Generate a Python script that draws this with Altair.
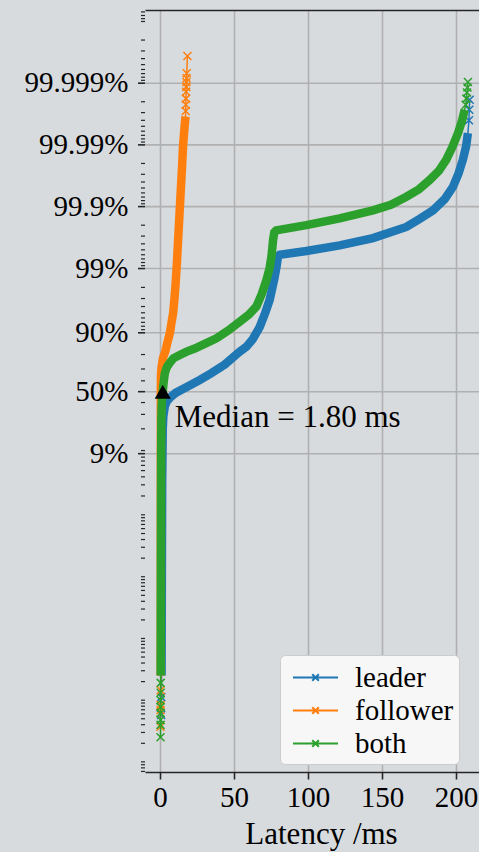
import math
import altair as alt
import pandas as pd

# ---------------- data ----------------
series_names = ["leader", "follower", "both"]
series_colors = ["#1f77b4", "#ff7f0e", "#2ca02c"]

# latency (ms) and log10-odds of the quantile, dense part of each curve
leader_body_ms = [1.0, 1.2, 1.4, 1.8, 2.2, 3.2, 4.5, 7.0, 10.5, 16.7, 26.8, 34.7, 43.7, 53.9,
                  58.4, 62.6, 67.4, 71.1, 74.1, 77.5, 78.9, 79.7, 80.9, 98.9, 121.4, 143.9,
                  166.5, 175.5, 184.5, 192.4, 198.0, 201.8, 204.7, 206.9, 208.1]
leader_body_lo = [-4.6, -3.0, -1.5, -0.6, -0.4, -0.24, -0.16, -0.09, -0.02, 0.06, 0.19, 0.30,
                  0.44, 0.65, 0.73, 0.85, 1.05, 1.28, 1.49, 1.86, 2.05, 2.19, 2.22, 2.28, 2.37,
                  2.49, 2.67, 2.80, 2.94, 3.12, 3.32, 3.54, 3.76, 3.98, 4.19]
leader_tail_ms = [0.7, 0.8, 208.8, 209.0, 209.3]
leader_tail_lo = [-5.24, -4.95, 4.40, 4.57, 4.73]

follower_body_ms = [0.45, 0.5, 0.5, 0.5, 0.5, 0.6, 1.0, 2.0, 3.5, 5.0, 6.6, 7.6, 8.8, 9.7,
                    10.5, 11.4, 12.2, 13.1, 14.0, 14.8, 15.5, 16.4, 17.2]
follower_body_lo = [-4.6, -3.0, -1.5, -0.5, 0.0, 0.25, 0.40, 0.55, 0.65, 0.80, 0.95, 1.10,
                    1.27, 1.50, 1.75, 2.10, 2.46, 2.87, 3.27, 3.62, 3.97, 4.25, 4.46]
follower_tail_ms = [0.25, 0.3, 0.35, 0.4, 17.3, 17.4, 17.5, 17.6, 17.7, 17.8, 17.9, 18.0, 18.5]
follower_tail_lo = [-5.43, -5.16, -5.08, -4.84, 4.55, 4.65, 4.75, 4.86, 4.94, 5.02, 5.08,
                    5.16, 5.44]

both_body_ms = [0.4, 0.5, 0.6, 0.7, 0.85, 1.1, 1.8, 2.4, 3.2, 4.6, 6.6, 9.0, 13.3, 18.0, 23.4,
                30.5, 38.1, 46.0, 53.9, 60.0, 65.1, 68.7, 71.9, 74.0, 75.3, 76.4, 77.2, 78.5,
                98.9, 121.4, 143.9, 156.0, 166.5, 175.0, 182.2, 188.5, 193.5, 197.5, 201.4,
                204.0, 205.9]
both_body_lo = [-4.6, -3.4, -2.0, -1.0, -0.45, -0.2, 0.0, 0.15, 0.30, 0.40, 0.47, 0.54, 0.595,
                0.65, 0.70, 0.78, 0.865, 0.99, 1.135, 1.25, 1.38, 1.58, 1.81, 2.0, 2.19, 2.46,
                2.58, 2.615, 2.70, 2.81, 2.94, 3.03, 3.16, 3.28, 3.43, 3.58, 3.76, 3.96, 4.19,
                4.38, 4.57]
both_tail_ms = [0.30, 0.32, 0.33, 0.34, 0.35, 0.36, 0.38, 0.40, 206.6, 207.1, 207.5, 207.8, 208.1]
both_tail_lo = [-5.60, -5.40, -5.32, -5.21, -5.11, -5.00, -4.88, -4.72, 4.65, 4.75, 4.85,
                4.93, 5.02]

median_ms = [1.80]
median_lo = [0.0]

x_ticks = [0, 50, 100, 150, 200]
y_tick_quantiles = [0.09, 0.5, 0.9, 0.99, 0.999, 0.9999, 0.99999]
y_tick_labels = ["9%", "50%", "90%", "99%", "99.9%", "99.99%", "99.999%"]

# ---------------- build tables ----------------
raw = {
    "leader": (leader_body_ms, leader_body_lo, leader_tail_ms, leader_tail_lo),
    "follower": (follower_body_ms, follower_body_lo, follower_tail_ms, follower_tail_lo),
    "both": (both_body_ms, both_body_lo, both_tail_ms, both_tail_lo),
}
rows = []
for s, (bm, bl, tm, tl) in raw.items():
    for m, l in zip(bm, bl):
        rows.append({"series": s, "ms": m, "lo": l, "part": "body"})
    for m, l in zip(tm, tl):
        rows.append({"series": s, "ms": m, "lo": l, "part": "tail"})
curves = pd.DataFrame(rows).sort_values(["series", "lo"]).reset_index(drop=True)
curves["idx"] = range(len(curves))

def logit10(p):
    return math.log10(p / (1 - p))

Y_DOM = [-6.164, 6.186]
X_DOM = [-10.2, 215.6]
major_vals = [round(logit10(p), 6) for p in y_tick_quantiles]
minor_vals = []
for n in range(1, 9):
    for k in range(1, 10):
        lower = k * 10 ** -n
        upper = 1 - k * 10 ** -n
        for p, ok in ((lower, lower < 0.5), (upper, upper > 0.5)):
            if not ok:
                continue
            v = logit10(p)
            if Y_DOM[0] <= v <= Y_DOM[1] and all(abs(v - mv) > 1e-4 for mv in major_vals):
                minor_vals.append(round(v, 6))
minor_df = pd.DataFrame({"lo": sorted(set(minor_vals))})
major_df = pd.DataFrame({"lo": major_vals, "label": y_tick_labels})

FONT = "Liberation Serif"
FS = 29
FS_TEXT = 31
DARK = "#262626"
GRID = "#b0b0b0"
W, H = 334, 762

xscale = alt.Scale(domain=X_DOM, nice=False, zero=False)
yscale = alt.Scale(domain=Y_DOM, nice=False, zero=False)
cscale = alt.Scale(domain=series_names, range=series_colors)

x_axis = alt.Axis(values=x_ticks, title="Latency /ms", grid=True, labelFlush=False,
                  tickSize=7, labelPadding=4, titleX=176, titleY=71,
                  titleBaseline="alphabetic", titleAlign="center", titleFontSize=FS_TEXT)
y_axis = alt.Axis(title=None, grid=False, ticks=False, labels=False, domain=True,
                  orient="left")

xpath = "M-1,-1L1,1M-1,1L1,-1"
legend_path = ("M-0.576,0L2.152,0M0.59,-0.2L0.99,0.2M0.59,0.2L0.99,-0.2")

layers = []

# horizontal grid at the labelled quantiles (drawn first, behind the curves)
hgrid = alt.Chart(major_df).mark_rule(color=GRID, strokeWidth=1.6).encode(
    y=alt.Y("lo:Q", scale=yscale, axis=y_axis),
    x=alt.value(0), x2=alt.value(W),
)
layers.append(hgrid)

# invisible layer that carries the x axis
axis_layer = alt.Chart(major_df).mark_point(opacity=0).encode(
    x=alt.X("xv:Q", scale=xscale, axis=x_axis),
    y=alt.Y("lo:Q", scale=yscale, axis=None),
).transform_calculate(xv="0")
layers.append(axis_layer)

first = True
for s in series_names:
    src = alt.Chart(curves).transform_filter(alt.datum.series == s)
    if first:
        leg = alt.Legend(title=None, orient="none", legendX=135, legendY=645,
                         symbolType=legend_path, symbolSize=1089, symbolStrokeWidth=2,
                         labelFont=FONT, labelFontSize=FS, labelColor="black",
                         fillColor="#f7f7f7", strokeColor="#cccccc", cornerRadius=5,
                         padding=5, rowPadding=0, labelOffset=35)
        first = False
    else:
        leg = None
    thin = src.mark_line(strokeWidth=1.5).encode(
        x=alt.X("ms:Q", scale=xscale, axis=None),
        y=alt.Y("lo:Q", scale=yscale, axis=None),
        color=alt.Color("series:N", scale=cscale, legend=leg),
        order="idx:Q",
    )
    thick = src.transform_filter(alt.datum.part == "body").mark_line(strokeWidth=8.5).encode(
        x=alt.X("ms:Q", scale=xscale, axis=None),
        y=alt.Y("lo:Q", scale=yscale, axis=None),
        color=alt.Color("series:N", scale=cscale, legend=None),
        order="idx:Q",
    )
    marks = src.transform_filter(alt.datum.part == "tail").mark_point(
        shape=xpath, filled=False, size=64, strokeWidth=1.5, opacity=1).encode(
        x=alt.X("ms:Q", scale=xscale, axis=None),
        y=alt.Y("lo:Q", scale=yscale, axis=None),
        color=alt.Color("series:N", scale=cscale, legend=None),
    )
    layers += [thin, thick, marks]

# y ticks (major and minor) and labels on the left spine
major_ticks = alt.Chart(major_df).mark_rule(color=DARK, strokeWidth=1.6).encode(
    y=alt.Y("lo:Q", scale=yscale, axis=None),
    x=alt.value(-7), x2=alt.value(0),
)
minor_ticks = alt.Chart(minor_df).mark_rule(color=DARK, strokeWidth=1.2).encode(
    y=alt.Y("lo:Q", scale=yscale, axis=None),
    x=alt.value(-4), x2=alt.value(0),
)
y_labels = alt.Chart(major_df).mark_text(align="right", baseline="middle", font=FONT,
                                         fontSize=FS, color="black").encode(
    y=alt.Y("lo:Q", scale=yscale, axis=None),
    x=alt.value(-16.5),
    text="label:N",
)
layers += [major_ticks, minor_ticks, y_labels]

med_df = pd.DataFrame({"ms": median_ms, "lo": median_lo})
med_df["label"] = [f"Median = {m:.2f} ms" for m in median_ms]

med_pt = alt.Chart(med_df).mark_point(shape="triangle-up", filled=True, size=260,
                                      color="black", opacity=1).encode(
    x=alt.X("ms:Q", scale=xscale,
            axis=alt.Axis(orient="top", labels=False, ticks=False, grid=False,
                          domain=True, title=None)),
    y=alt.Y("lo:Q", scale=yscale, axis=None),
)
med_txt = alt.Chart(med_df).mark_text(align="left", baseline="alphabetic", dx=12, dy=35,
                                      font=FONT, fontSize=FS_TEXT, color="black").encode(
    x=alt.X("ms:Q", scale=xscale, axis=None),
    y=alt.Y("lo:Q", scale=yscale, axis=None),
    text="label:N",
)
layers += [med_pt, med_txt]

chart = alt.layer(*layers).resolve_axis(x="independent").properties(
    width=W, height=H,
    padding={"left": 145, "top": 10, "right": 0, "bottom": 80},
    autosize="none",
    background="#d8dbde",
).configure_view(stroke="transparent").configure_axis(
    domainColor=DARK, domainWidth=1.6, tickColor=DARK, tickWidth=1.6,
    gridColor=GRID, gridWidth=1.6,
    labelFont=FONT, labelFontSize=FS, labelColor="black",
    titleFont=FONT, titleFontSize=FS, titleColor="black", titleFontWeight="normal",
)

chart.save("out.html", embed_options={"renderer": "svg", "actions": False})
